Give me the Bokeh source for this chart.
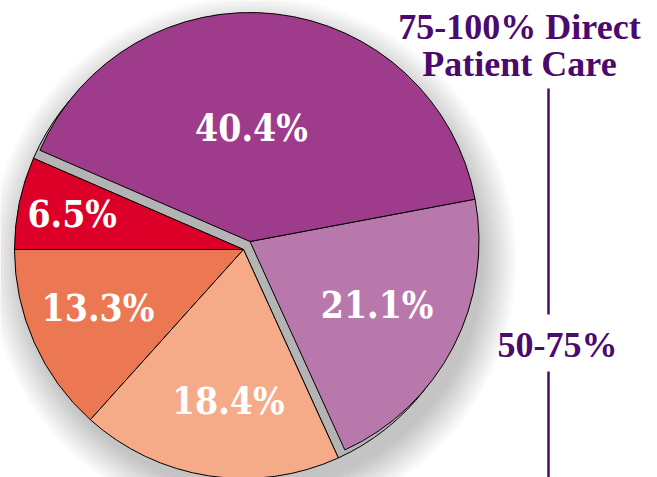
import math
from bokeh.plotting import figure
from bokeh.models import Range1d, ColumnDataSource
from bokeh.core.properties import value
from bokeh.embed import file_html
from bokeh.resources import INLINE

# ---- data ----
slice_labels = ["6.5%", "13.3%", "18.4%", "21.1%", "40.4%"]
shares = [6.5, 13.3, 18.4, 21.1, 40.4]
slice_colors = ["#DC0028", "#EB7853", "#F5AB87", "#B878AC", "#9E3B8A"]
exploded = [False, False, False, True, True]
title_lines = ["75-100% Direct", "Patient Care"]
mid_title = "50-75%"

# ---- layout ----
W, H = 657, 477
TOP = 477
R = 229
warm_c = (243.0, TOP - 249.0)
purple_c = (249.5, TOP - 241.0)
label_r = [175, 157, 152, 142, 114]
label_da = [0.0, -2.0, 3.0, 1.0, 5.7]
DARK = "#4B0A6E"

p = figure(width=W, height=H, x_range=Range1d(0, W), y_range=Range1d(TOP - H, TOP),
           output_backend="svg", toolbar_location=None, min_border=0,
           x_axis_location=None, y_axis_location=None)
p.grid.visible = False
p.outline_line_color = None
p.background_fill_color = "white"

total = float(sum(shares))
a0 = math.pi - 2 * math.pi * shares[0] / total
starts, ends = [], []
a = a0
for s in shares:
    starts.append(a)
    a += 2 * math.pi * s / total
    ends.append(a)

# soft drop shadow
for k in range(12):
    p.circle(x=[warm_c[0] + 9], y=[warm_c[1] - 11], radius=R + 2 + k * 3,
             fill_color="black", fill_alpha=0.02, line_color=None)

# gray band (side of the exploded group)
ex_idx = [i for i, e in enumerate(exploded) if e]
p.wedge(x=[warm_c[0]], y=[warm_c[1]], radius=R,
        start_angle=[starts[ex_idx[0]]], end_angle=[ends[ex_idx[-1]]],
        fill_color="#B4B4B4", line_color="black", line_width=1, direction="anticlock")

xs, ys, lx, ly = [], [], [], []
for i, e in enumerate(exploded):
    c = purple_c if e else warm_c
    xs.append(c[0]); ys.append(c[1])
    mid = (starts[i] + ends[i]) / 2 + math.radians(label_da[i])
    lx.append(c[0] + label_r[i] * math.cos(mid))
    ly.append(c[1] + label_r[i] * math.sin(mid))

src = ColumnDataSource(dict(x=xs, y=ys, s=starts, e=ends, color=slice_colors,
                            lx=lx, ly=ly, label=slice_labels))
p.wedge(x="x", y="y", radius=R, start_angle="s", end_angle="e", fill_color="color",
        line_color="black", line_width=1, direction="anticlock", source=src)

p.text(x="lx", y="ly", text="label", source=src, text_align="center", text_baseline="middle",
       text_font=value("DejaVu Serif Condensed"), text_font_style="bold",
       text_font_size="37px", text_color="white")

p.text(x=[519, 519], y=[TOP - 26, TOP - 63], text=title_lines, text_align="center",
       text_baseline="middle", text_font=value("Liberation Serif"), text_font_style="bold",
       text_font_size="36px", text_color=DARK)
p.text(x=[557], y=[TOP - 344], text=[mid_title], text_align="center",
       text_baseline="middle", text_font=value("Liberation Serif"), text_font_style="bold",
       text_font_size="36px", text_color=DARK)

p.segment(x0=[548, 548], y0=[TOP - 88, TOP - 371], x1=[548, 548], y1=[TOP - 314, TOP - 490],
          line_color=DARK, line_width=2.5)

open("out.html", "w").write(file_html(p, INLINE))
